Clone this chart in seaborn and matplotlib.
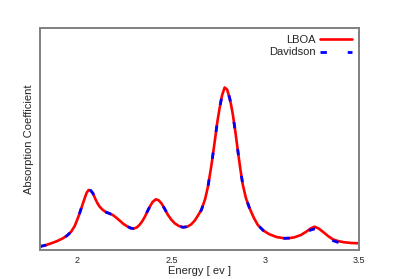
import numpy as np
import pandas as pd
import seaborn as sns
import matplotlib
matplotlib.use("Agg")
import matplotlib.pyplot as plt

# Valores (unidades arbitrarias)
energy = [1.800, 1.830, 1.860, 1.890, 1.920, 1.945, 1.966, 1.985, 2.000, 2.011,
          2.025, 2.038, 2.048, 2.059, 2.070, 2.082, 2.095, 2.107, 2.118, 2.135,
          2.153, 2.170, 2.188, 2.205, 2.224, 2.245, 2.268, 2.285, 2.300, 2.315,
          2.330, 2.345, 2.359, 2.372, 2.385, 2.400, 2.417, 2.432, 2.447, 2.465,
          2.482, 2.500, 2.518, 2.540, 2.562, 2.585, 2.605, 2.625, 2.645, 2.660,
          2.680, 2.695, 2.713, 2.731, 2.745, 2.757, 2.770, 2.784, 2.797, 2.811,
          2.820, 2.828, 2.842, 2.855, 2.868, 2.881, 2.898, 2.917, 2.940, 2.961,
          2.990, 3.023, 3.060, 3.103, 3.130, 3.156, 3.190, 3.219, 3.242, 3.263,
          3.285, 3.307, 3.335, 3.360, 3.390, 3.422, 3.460, 3.500]
lboa = [3.5, 4.8, 6.7, 8.8, 11.5, 14.5, 18.3, 24.0, 31.0, 36.7,
        44.5, 51.7, 57.0, 60.0, 59.5, 56.7, 51.0, 46.5, 43.3, 40.0,
        37.7, 36.5, 35.0, 32.5, 29.5, 26.0, 23.3, 21.8, 21.5, 22.5,
        25.0, 28.8, 33.3, 38.5, 43.3, 48.0, 50.7, 49.8, 46.7, 41.0,
        35.0, 30.3, 26.7, 24.0, 22.7, 23.3, 25.5, 29.5, 35.5, 40.0,
        51.0, 63.3, 84.0, 108.3, 128.0, 141.7, 154.5, 162.5, 160.5, 151.7,
        143.5, 135.0, 117.0, 98.3, 80.5, 65.0, 51.5, 41.7, 32.0, 25.0,
        19.5, 15.7, 13.0, 11.7, 11.9, 12.7, 15.0, 18.3, 21.5, 23.3,
        21.5, 18.3, 14.0, 10.7, 8.8, 7.7, 7.0, 6.7]
davidson = [3.5, 4.8, 6.7, 8.8, 11.5, 14.5, 18.3, 24.0, 31.0, 36.7,
            44.5, 51.7, 57.0, 60.0, 59.5, 56.7, 51.0, 46.5, 43.3, 40.0,
            37.7, 36.5, 35.0, 32.5, 29.5, 26.0, 23.3, 21.8, 21.5, 22.5,
            25.0, 28.8, 33.3, 38.5, 43.3, 48.0, 50.7, 49.8, 46.7, 41.0,
            35.0, 30.3, 26.7, 24.0, 22.7, 23.3, 25.5, 29.5, 35.5, 40.0,
            51.0, 63.3, 84.0, 108.3, 128.0, 141.7, 154.5, 162.5, 160.5, 151.7,
            143.5, 135.0, 117.0, 98.3, 80.5, 65.0, 51.5, 41.7, 32.0, 25.0,
            19.5, 15.7, 13.0, 11.7, 11.9, 12.5, 14.5, 17.5, 20.0, 21.0,
            19.5, 16.5, 12.5, 9.5, 7.5, 6.0, 5.0, 4.0]

sns.set_style("white")
plt.rcParams['font.family'] = ['Liberation Sans', 'DejaVu Sans']

df = pd.DataFrame({'Energy': energy * 2,
                   'Abs': lboa + davidson,
                   'Method': ['LBOA'] * len(energy) + ['Davidson'] * len(energy)})

fig = plt.figure(figsize=(3.99, 2.79), dpi=100)
ax = fig.add_axes([40 / 399, 29 / 279, 319 / 399, 222 / 279])

sns.lineplot(data=df[df.Method == 'LBOA'], x='Energy', y='Abs', color='#ff0000',
             lw=1.9, ax=ax, label='LBOA')
sns.lineplot(data=df[df.Method == 'Davidson'], x='Energy', y='Abs', color='#0000ff',
             lw=2.0, ax=ax, label='Davidson', dashes=False)
ax.lines[1].set_dashes((2.3, 7.5))

ax.set_xlim(1.8, 3.5)
ax.set_ylim(0, 222)
ax.set_xticks([2, 2.5, 3, 3.5])
ax.set_xticklabels(['2', '2.5', '3', '3.5'])
ax.set_yticks([])
ax.tick_params(axis='x', direction='in', length=4, width=0.8, color='#808080',
               labelsize=6.5, pad=4)
for s in ax.spines.values():
    s.set_color('#808080')
    s.set_linewidth(1.4)

ax.set_xlabel('Energy [ ev ]', fontsize=8, labelpad=1)
ax.set_ylabel('Absorption Coefficient', fontsize=8, labelpad=4)

leg = ax.legend(loc='upper right', frameon=False, fontsize=8, markerfirst=False,
                handlelength=2.9, handletextpad=0.4, labelspacing=0.25,
                borderaxespad=0.2)

fig.savefig('out.png', dpi=100)
